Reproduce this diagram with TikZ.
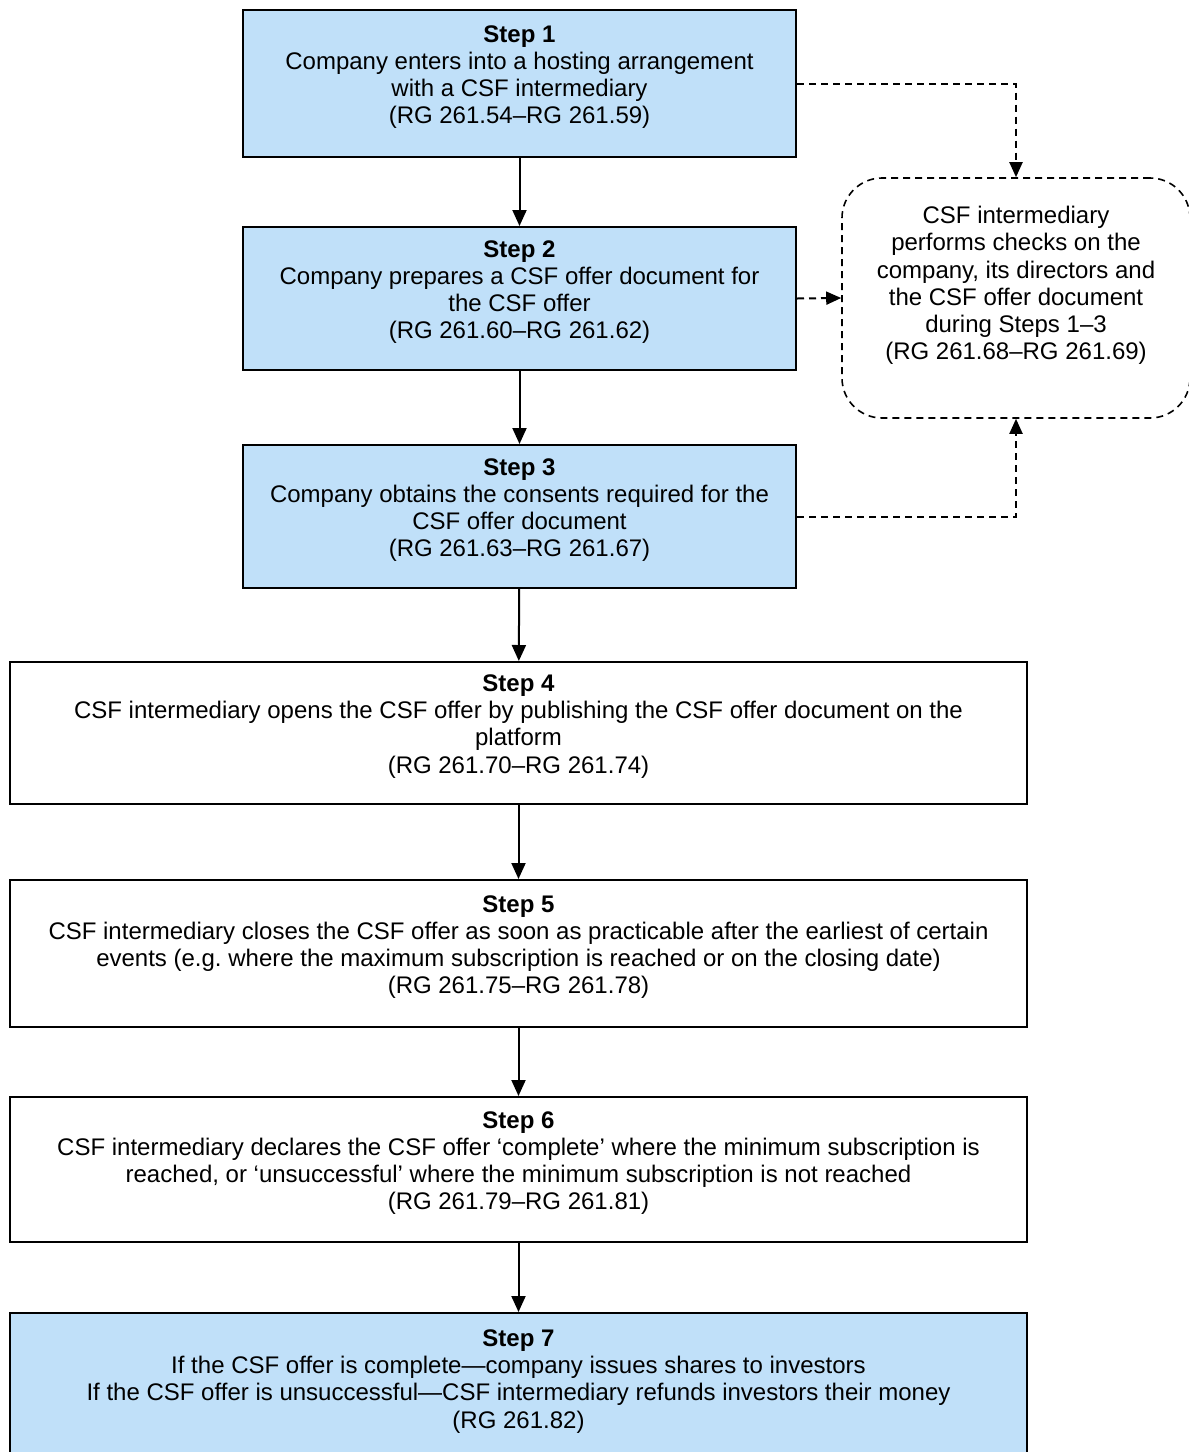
\documentclass[tikz,border=0pt]{standalone}
\usepackage{fontspec}
\setmainfont{Liberation Sans}
\usetikzlibrary{arrows.meta}

\definecolor{stepblue}{RGB}{192,224,249}

\tikzset{
  stepbox/.style={draw=black, line width=1pt, align=center, inner sep=0pt,
    font=\fontsize{12}{13.6}\selectfont,
    execute at end node={\rule[-9pt]{0pt}{0pt}}},
  checkbox/.style={draw=black, dashed, dash pattern=on 3.5pt off 2.5pt, line width=0.8pt,
    rounded corners=20pt, align=center, inner sep=0pt,
    font=\fontsize{12}{13.6}\selectfont,
    execute at end node={\rule[-15pt]{0pt}{0pt}}},
  flow/.style={-{Triangle[length=8pt,width=7pt]}, line width=1pt},
  dflow/.style={-{Triangle[length=7.5pt,width=6.5pt]}, line width=1pt, dash pattern=on 3.5pt off 2.5pt}
}

\begin{document}
\begin{tikzpicture}[x=0.5pt,y=-0.5pt]
\useasboundingbox (0,0) rectangle (1189,1452);
\clip (0,0) rectangle (1189,1452);

\node[stepbox, fill=stepblue, minimum width=276.5pt, minimum height=73.5pt] (s1) at (519.5,83.5)
  {\textbf{Step 1}\\Company enters into a hosting arrangement\\with a CSF intermediary\\(RG 261.54–RG 261.59)};
\node[stepbox, fill=stepblue, minimum width=276.5pt, minimum height=71.5pt] (s2) at (519.5,298.5)
  {\textbf{Step 2}\\Company prepares a CSF offer document for\\the CSF offer\\(RG 261.60–RG 261.62)};
\node[stepbox, fill=stepblue, minimum width=276.5pt, minimum height=71.5pt] (s3) at (519.5,516.5)
  {\textbf{Step 3}\\Company obtains the consents required for the\\CSF offer document\\(RG 261.63–RG 261.67)};
\node[stepbox, minimum width=508.5pt, minimum height=71pt] (s4) at (518.5,733)
  {\textbf{Step 4}\\CSF intermediary opens the CSF offer by publishing the CSF offer document on the\\platform\\(RG 261.70–RG 261.74)};
\node[stepbox, minimum width=508.5pt, minimum height=73.5pt] (s5) at (518.5,953.5)
  {\textbf{Step 5}\\CSF intermediary closes the CSF offer as soon as practicable after the earliest of certain\\events (e.g.\ where the maximum subscription is reached or on the closing date)\\(RG 261.75–RG 261.78)};
\node[stepbox, minimum width=508.5pt, minimum height=72.5pt] (s6) at (518.5,1169.5)
  {\textbf{Step 6}\\CSF intermediary declares the CSF offer ‘complete’ where the minimum subscription is\\reached, or ‘unsuccessful’ where the minimum subscription is not reached\\(RG 261.79–RG 261.81)};
\node[stepbox, fill=stepblue, minimum width=508.5pt, minimum height=75pt] (s7) at (518.5,1388)
  {\textbf{Step 7}\\If the CSF offer is complete—company issues shares to investors\\If the CSF offer is unsuccessful—CSF intermediary refunds investors their money\\(RG 261.82)};

% checks by the intermediary
\node[checkbox, minimum width=174pt, minimum height=120pt] (chk) at (1016,298)
  {CSF intermediary\\performs checks on the\\company, its directors and\\the CSF offer document\\during Steps 1–3\\(RG 261.68–RG 261.69)};

\draw[flow] (s1) -- (s2);
\draw[flow] (s2) -- (s3);
\draw[flow] (s3) -- (s4);
\draw[flow] (s4) -- (s5);
\draw[flow] (s5) -- (s6);
\draw[flow] (s6) -- (s7);

\draw[dflow] (s1.east) -| (chk.north);
\draw[dflow] (s2.east) -- (chk.west);
\draw[dflow] (s3.east) -| (chk.south);
\end{tikzpicture}
\end{document}
